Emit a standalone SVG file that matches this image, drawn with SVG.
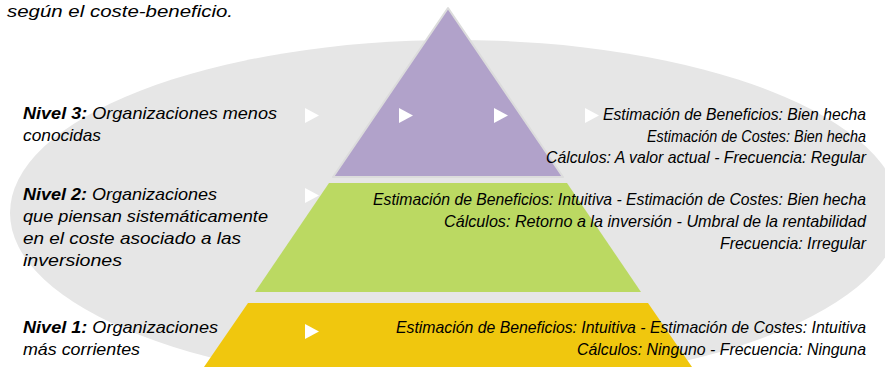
<svg xmlns="http://www.w3.org/2000/svg" xmlns:xlink="http://www.w3.org/1999/xlink" width="885" height="367" viewBox="0 0 885 367">
  <style>
    text { font-family: "Liberation Sans", Arial, sans-serif; font-style: italic; fill: #000; }
    .lbl { font-size: 17px; }
    .det { font-size: 16.5px; text-anchor: end; }
    .b { font-weight: bold; }
  </style>
  <defs>
    <polygon id="play" points="0,0 14,7.5 0,15" fill="#ffffff"/>
  </defs>
  <rect width="885" height="367" fill="#ffffff"/>
  <text id="title" class="lbl" x="7" y="17" textLength="226" lengthAdjust="spacingAndGlyphs">según el coste-beneficio.</text>
  <ellipse id="backdrop" cx="455" cy="213" rx="445" ry="173" fill="#e6e6e6"/>

  <g id="level3">
    <polygon points="448,8 333,177 563,177" fill="#b1a2ca" stroke="#dcdcdc" stroke-width="2" stroke-linejoin="round"/>
    <text class="lbl" x="23" y="119" textLength="254" lengthAdjust="spacingAndGlyphs"><tspan class="b">Nivel 3:</tspan> Organizaciones menos</text>
    <text class="lbl" x="23" y="141" textLength="78" lengthAdjust="spacingAndGlyphs">conocidas</text>
    <text class="det" x="866" y="120" textLength="263" lengthAdjust="spacingAndGlyphs">Estimación de Beneficios: Bien hecha</text>
    <text class="det" x="866" y="142" textLength="219" lengthAdjust="spacingAndGlyphs">Estimación de Costes: Bien hecha</text>
    <text class="det" x="866" y="163" textLength="320" lengthAdjust="spacingAndGlyphs">Cálculos: A valor actual - Frecuencia: Regular</text>
  </g>

  <g id="level2">
    <polygon points="329,183 567,183 641,292 255,292" fill="#bbd962"/>
    <text class="lbl" x="23" y="200" textLength="194" lengthAdjust="spacingAndGlyphs"><tspan class="b">Nivel 2:</tspan> Organizaciones</text>
    <text class="lbl" x="23" y="222" textLength="245" lengthAdjust="spacingAndGlyphs">que piensan sistemáticamente</text>
    <text class="lbl" x="23" y="244" textLength="218" lengthAdjust="spacingAndGlyphs">en el coste asociado a las</text>
    <text class="lbl" x="23" y="266" textLength="99" lengthAdjust="spacingAndGlyphs">inversiones</text>
    <text class="det" x="866" y="205" textLength="493" lengthAdjust="spacingAndGlyphs">Estimación de Beneficios: Intuitiva - Estimación de Costes: Bien hecha</text>
    <text class="det" x="866" y="227" textLength="422" lengthAdjust="spacingAndGlyphs">Cálculos: Retorno a la inversión - Umbral de la rentabilidad</text>
    <text class="det" x="866" y="249" textLength="146" lengthAdjust="spacingAndGlyphs">Frecuencia: Irregular</text>
  </g>

  <g id="level1">
    <polygon points="248,303 648,303 692,367 204,367" fill="#f0c70e"/>
    <text class="lbl" x="23" y="333" textLength="195" lengthAdjust="spacingAndGlyphs"><tspan class="b">Nivel 1:</tspan> Organizaciones</text>
    <text class="lbl" x="23" y="355" textLength="117" lengthAdjust="spacingAndGlyphs">más corrientes</text>
    <text class="det" x="866" y="333" textLength="470" lengthAdjust="spacingAndGlyphs">Estimación de Beneficios: Intuitiva - Estimación de Costes: Intuitiva</text>
    <text class="det" x="866" y="355" textLength="289" lengthAdjust="spacingAndGlyphs">Cálculos: Ninguno - Frecuencia: Ninguna</text>
  </g>

  <g id="connectors">
    <use xlink:href="#play" x="305" y="108"/>
    <use xlink:href="#play" x="399" y="108"/>
    <use xlink:href="#play" x="494" y="108"/>
    <use xlink:href="#play" x="585" y="108"/>
    <use xlink:href="#play" x="305" y="188"/>
    <use xlink:href="#play" x="305" y="324"/>
  </g>
</svg>
